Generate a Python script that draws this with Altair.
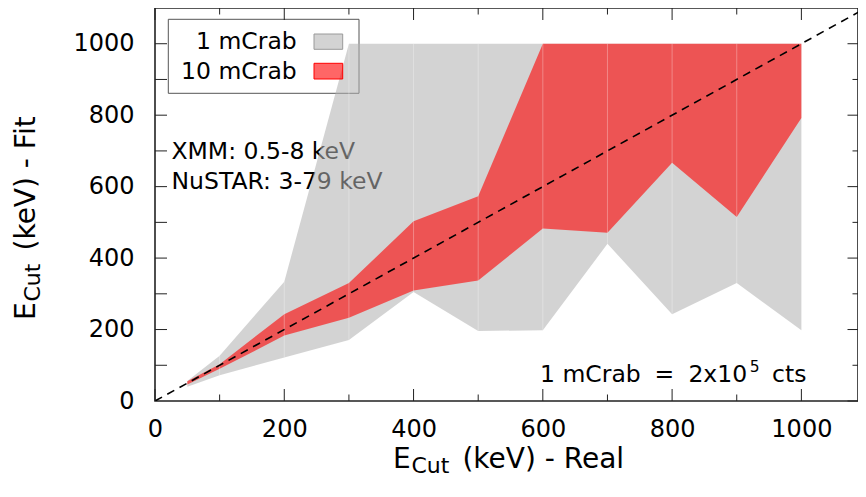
import altair as alt
import pandas as pd

# ---------------- data ----------------
e_real = [50, 100, 200, 300, 400, 500, 600, 700, 800, 900, 1000]
gray_lo = [40, 72, 122, 171, 305, 196, 198, 440, 243, 330, 198]
gray_hi = [56, 127, 334, 1000, 1000, 1000, 1000, 1000, 1000, 1000, 1000]
red_lo = [46, 90, 183, 233, 309, 337, 483, 471, 667, 515, 792]
red_hi = [55, 103, 243, 330, 503, 573, 1000, 1000, 1000, 1000, 1000]
diag = [0, 1100]
major_ticks = [0, 200, 400, 600, 800, 1000]
minor_ticks = [100, 300, 500, 700, 900]
all_ticks = [100, 200, 300, 400, 500, 600, 700, 800, 900, 1000]
series_names = ["1 mCrab", "10 mCrab"]

FONT = "DejaVu Sans"
W, H = 703, 393
FS = 23.5

bands = pd.DataFrame({"x": e_real, "glo": gray_lo, "ghi": gray_hi, "rlo": red_lo, "rhi": red_hi})
seams = bands[(bands["x"] > 50) & (bands["x"] < 1000)]
diag_df = pd.DataFrame({"x": diag, "y": diag})
one = pd.DataFrame({"a": [0]})

xs = alt.Scale(domain=[0, 1087.6], nice=False, zero=False)
ys = alt.Scale(domain=[0, 1100], nice=False, zero=False)

AX = alt.Axis(values=major_ticks, title=None, ticks=False, tickSize=0, domain=False, grid=False,
              labelFont=FONT, labelFontSize=24, labelPadding=16.5, labelColor="black",
              labelOverlap=False, labelFlush=False, format="d")
AY = alt.Axis(values=major_ticks, title=None, ticks=False, tickSize=0, domain=False, grid=False,
              labelFont=FONT, labelFontSize=24, labelPadding=21, labelColor="black",
              labelOverlap=False, labelFlush=False, format="d")


def X(field):
    return alt.X(field, type="quantitative", scale=xs, axis=AX)


def Y(field):
    return alt.Y(field, type="quantitative", scale=ys, axis=AY)


def label(text, x, y, size=FS, align="left", angle=0, color="black"):
    return alt.Chart(one).mark_text(text=text, align=align, baseline="alphabetic", fontSize=size,
                                    font=FONT, color=color, angle=angle).encode(
        x=alt.value(x), y=alt.value(y))


layers = []

# annotation texts (under the translucent bands)
layers.append(label("XMM: 0.5-8 keV", 16.5, 151.3))
layers.append(label("NuSTAR: 3-79 keV", 16.5, 181.3))
layers.append(label("1 mCrab", 385, 373.5))
layers.append(label("=", 499.5, 373.5))
layers.append(label("2x10", 533.4, 373.5))
layers.append(label("5", 594.7, 363.5, size=15.5))
layers.append(label("cts", 617, 373.5))

# legend box + labels
layers.append(alt.Chart(one).mark_rect(fill="white", fillOpacity=0, stroke="#555", strokeWidth=1).encode(
    x=alt.value(13.3), x2=alt.value(204), y=alt.value(11.3), y2=alt.value(85.3)))
layers.append(label(series_names[0], 141.7, 41.3, align="right"))
layers.append(label(series_names[1], 141.7, 71, align="right"))

# gray band
layers.append(alt.Chart(bands).mark_area(color="#b1b1b1", opacity=0.565).encode(
    x=X("x"), y=Y("glo"), y2="ghi"))
# red band
layers.append(alt.Chart(bands).mark_area(color="#ff0000", opacity=0.6).encode(
    x=X("x"), y=Y("rlo"), y2="rhi"))
# faint seams
layers.append(alt.Chart(seams).mark_rule(color="white", opacity=0.3, strokeWidth=1).encode(
    x=X("x"), y=Y("glo"), y2="ghi"))

# dashed diagonal
layers.append(alt.Chart(diag_df).mark_line(color="black", strokeWidth=1.6, strokeDash=[8, 6],
                                           clip=True).encode(
    x=X("x"), y=Y("y")))

# legend swatches
layers.append(alt.Chart(one).mark_rect(fill="#b1b1b1", fillOpacity=0.565, stroke="#9a9a9a",
                                       strokeWidth=1).encode(
    x=alt.value(159), x2=alt.value(187.7), y=alt.value(26), y2=alt.value(41.3)))
layers.append(alt.Chart(one).mark_rect(fill="#ff0000", fillOpacity=0.6, stroke="#ff0000",
                                       strokeWidth=1).encode(
    x=alt.value(159), x2=alt.value(187.7), y=alt.value(55.3), y2=alt.value(71)))

# inward ticks
TC = "#222"
maj = pd.DataFrame({"v": major_ticks})
mnr = pd.DataFrame({"v": minor_ticks})
allt = pd.DataFrame({"v": all_ticks})
for df, ln in [(maj, 12), (mnr, 6.5)]:
    layers.append(alt.Chart(df).mark_rule(color=TC, strokeWidth=1).encode(
        x=X("v"), y=alt.value(H), y2=alt.value(H - ln)))
    layers.append(alt.Chart(df).mark_rule(color=TC, strokeWidth=1).encode(
        x=X("v"), y=alt.value(0), y2=alt.value(ln)))
for df, ln in [(maj, 10.5), (mnr, 5.5)]:
    layers.append(alt.Chart(df).mark_rule(color=TC, strokeWidth=1).encode(
        y=Y("v"), x=alt.value(W), x2=alt.value(W - ln)))
layers.append(alt.Chart(allt).mark_rule(color=TC, strokeWidth=1).encode(
    y=Y("v"), x=alt.value(0), x2=alt.value(12)))

# axis titles with subscripts
layers.append(label("E", 238, 460, size=28))
layers.append(label("Cut", 256.5, 464.5, size=22))
layers.append(label("(keV) - Real", 307.4, 460, size=28))
layers.append(label("E", -120, 312, size=28, angle=270))
layers.append(label("Cut", -115.5, 293.5, size=22, angle=270))
layers.append(label("(keV) - Fit", -120, 242.5, size=28, angle=270))

chart = alt.layer(*layers).properties(
    width=W, height=H,
    autosize=alt.AutoSizeParams(type="none"),
    padding={"left": 147, "top": 0, "right": 0, "bottom": 77},
).configure_view(stroke="#222", strokeWidth=1.6)

chart.save("out.html", embed_options={"renderer": "svg", "actions": False})
